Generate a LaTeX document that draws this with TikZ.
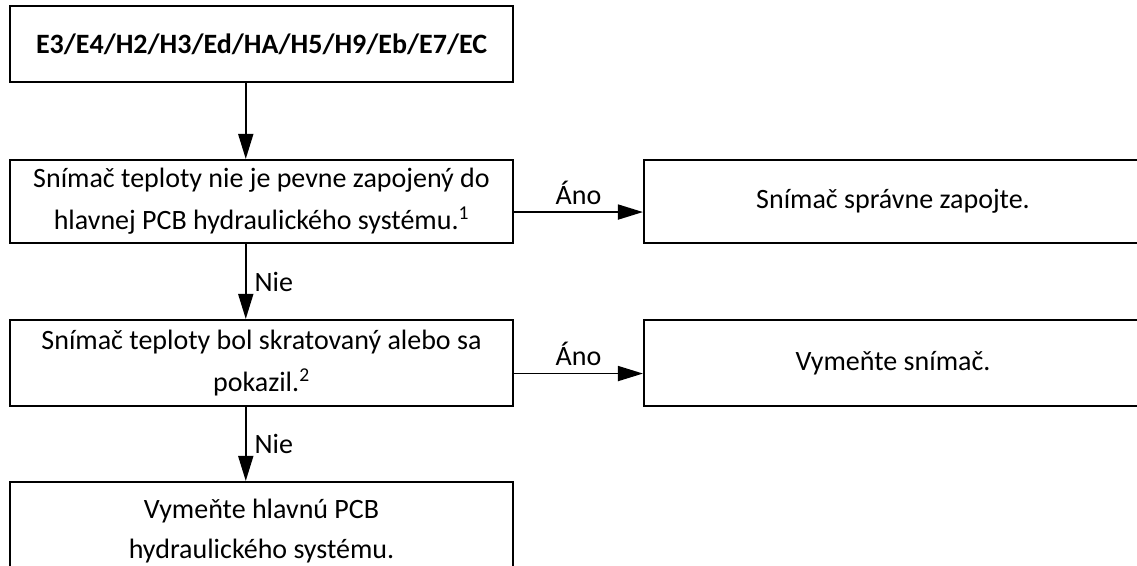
\documentclass[tikz,border=0pt]{standalone}
\usepackage{fontspec}
\setmainfont{Carlito}
\usetikzlibrary{arrows.meta}
\begin{document}
\begin{tikzpicture}[x=0.75pt,y=-0.75pt,
  box/.style={draw, line width=1.6pt, rectangle, align=center, inner sep=0pt,
    font=\fontsize{21}{25.5}\selectfont},
  leftbox/.style={box, minimum width=377.25pt},
  rightbox/.style={box, minimum width=373.5pt},
  conn/.style={line width=1.3pt, -{Triangle[length=18.75pt,width=11.25pt]}},
  lbl/.style={font=\fontsize{21}{25}\selectfont, inner sep=3pt},
  sidelbl/.style={lbl, inner xsep=6pt}]
\useasboundingbox (0,0) rectangle (1137,565);
\clip (0,0) rectangle (1137,565);

% decision chain on the left
\node[leftbox, minimum height=57pt, font=\fontsize{21}{25.5}\selectfont\bfseries]
  (b1) at (261.5,44) {E3/E4/H2/H3/Ed/HA/H5/H9/Eb/E7/EC};
\node[leftbox, minimum height=62.25pt] (b2) at (261.5,201.5)
  {Snímač teploty nie je pevne zapojený do\\[6pt]hlavnej PCB hydraulického systému.\textsuperscript{1}};
\node[leftbox, minimum height=64.5pt] (b3) at (261.5,363)
  {Snímač teploty bol skratovaný alebo sa\\[6pt]pokazil.\textsuperscript{2}};
\node[leftbox, minimum height=73.5pt] (b4) at (261.5,531)
  {Vymeňte hlavnú PCB\\[5pt]hydraulického systému.};

% actions on the right
\node[rightbox, minimum height=62.25pt] (r1) at (893,201.5) {Snímač správne zapojte.};
\node[rightbox, minimum height=64.5pt] (r2) at (893,363) {Vymeňte snímač.};

% connectors
\draw[conn] ([xshift=-11.8pt]b1.south) -- ([xshift=-11.8pt]b2.north);
\draw[conn] ([xshift=-11.8pt]b2.south) -- node[sidelbl, right] {Nie} ([xshift=-11.8pt]b3.north);
\draw[conn] ([xshift=-11.8pt]b3.south) -- node[sidelbl, right] {Nie} ([xshift=-11.8pt]b4.north);
\draw[conn] ([yshift=-7.9pt]b2.east) -- node[lbl, above, inner ysep=5pt] {Áno} ([yshift=-7.9pt]r1.west);
\draw[conn] ([yshift=-7.9pt]b3.east) -- node[lbl, above, inner ysep=5pt] {Áno} ([yshift=-7.9pt]r2.west);
\end{tikzpicture}
\end{document}
